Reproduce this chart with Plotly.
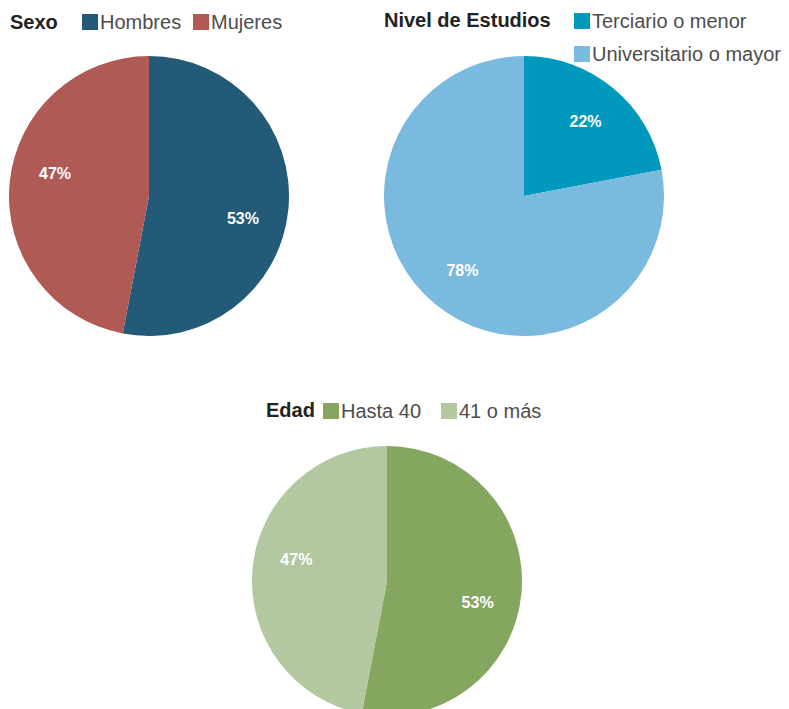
import plotly.graph_objects as go

W, H = 789, 709
OFF = 8  # page body margin: figure is drawn 8px right/down of the window origin

sexo_labels = ["Hombres", "Mujeres"]
sexo_values = [53, 47]
sexo_colors = ["#235a78", "#b05a56"]

estudios_labels = ["Terciario o menor", "Universitario o mayor"]
estudios_values = [22, 78]
estudios_colors = ["#0098bd", "#7bbadf"]

edad_labels = ["Hasta 40", "41 o más"]
edad_values = [53, 47]
edad_colors = ["#85a65e", "#b3c8a0"]

FONT = "Liberation Sans, Arial, sans-serif"


def px(x, y):
    """window pixel -> paper coordinates"""
    return (x - OFF) / W, 1 - (y - OFF) / H


def px_dom(x0, x1, y0, y1):
    x0, x1, y0, y1 = x0 - OFF, x1 - OFF, y0 - OFF, y1 - OFF
    return dict(x=[max(0, x0 / W), min(1, x1 / W)], y=[max(0, 1 - y1 / H), min(1, 1 - y0 / H)])


def pies(labels, values, colors, dom, text_rot):
    base = go.Pie(
        labels=labels, values=values, sort=False, direction="clockwise", rotation=0,
        marker=dict(colors=colors, line=dict(width=0)),
        textinfo="none", domain=dom, hoverinfo="label+percent", showlegend=False,
    )
    # transparent ring carrying the percentage labels further out from the centre
    text = go.Pie(
        labels=labels, values=values, sort=False, direction="clockwise", rotation=text_rot,
        hole=0.38, showlegend=False, hoverinfo="skip",
        marker=dict(colors=["rgba(0,0,0,0)"] * len(labels), line=dict(width=0)),
        texttemplate="<b>%{percent:.0%}</b>",
        textposition="inside", insidetextorientation="horizontal",
        insidetextfont=dict(color="white", size=16, family=FONT),
        domain=dom,
    )
    return [base, text]


fig = go.Figure()
for t in pies(sexo_labels, sexo_values, sexo_colors, px_dom(9, 289, 56, 336), 8):
    fig.add_trace(t)
for t in pies(estudios_labels, estudios_values, estudios_colors, px_dom(384, 664, 56, 336), 0):
    fig.add_trace(t)
for t in pies(edad_labels, edad_values, edad_colors, px_dom(252, 522, 446, 716), 8):
    fig.add_trace(t)

annotations = []
shapes = []
SQ = 16


def add_legend(title, title_pos, labels, colors, square_pos):
    tx, ty = px(*title_pos)
    annotations.append(dict(
        text=f"<b>{title}</b>", x=tx, y=ty, xref="paper", yref="paper",
        xanchor="left", yanchor="middle", showarrow=False,
        font=dict(family=FONT, size=20, color="#222222"),
    ))
    for lab, col, (sx, sy) in zip(labels, colors, square_pos):
        x0, y1 = px(sx, sy - SQ / 2)
        x1, y0 = px(sx + SQ, sy + SQ / 2)
        shapes.append(dict(type="rect", xref="paper", yref="paper", x0=x0, x1=x1, y0=y0, y1=y1,
                           fillcolor=col, line=dict(width=0), layer="above"))
        lx, ly = px(sx + SQ, sy)
        annotations.append(dict(
            text=lab, x=lx, y=ly, xref="paper", yref="paper",
            xanchor="left", yanchor="middle", showarrow=False,
            font=dict(family=FONT, size=20, color="#4d4d4d"),
        ))


add_legend("Sexo", (8, 22), sexo_labels, sexo_colors, [(82, 22), (193, 22)])
add_legend("Nivel de Estudios", (382, 20), estudios_labels, estudios_colors, [(574, 21), (574, 54)])
add_legend("Edad", (264, 410), edad_labels, edad_colors, [(323, 411), (441, 411)])

fig.update_layout(
    width=W, height=H, margin=dict(l=0, r=0, t=0, b=0),
    paper_bgcolor="white", plot_bgcolor="white",
    showlegend=False, annotations=annotations, shapes=shapes,
)

fig.write_html("out.html")
